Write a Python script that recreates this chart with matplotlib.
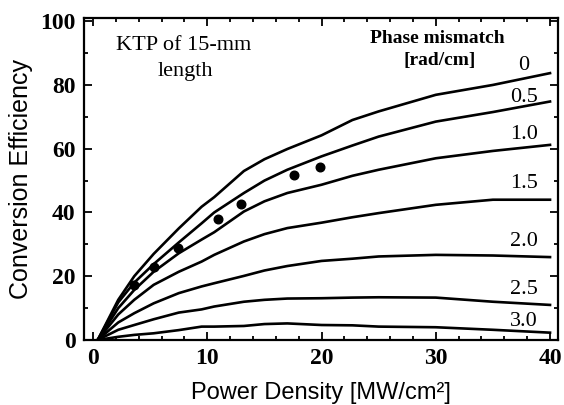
import matplotlib
matplotlib.use("Agg")
import matplotlib.pyplot as plt
from matplotlib.ticker import MultipleLocator

# Power density grid [MW/cm^2] shared by all computed curves
power = [0.4, 2.2, 3.6, 5.3, 7.5, 9.5, 10.6, 13.2, 15, 17, 20, 22.7, 25, 30, 35, 40]

# Conversion efficiency [%] for each phase mismatch [rad/cm]
mismatch_labels = ["0", "0.5", "1.0", "1.5", "2.0", "2.5", "3.0"]
eff_0_0 = [0, 12.6, 20.0, 27.0, 35.0, 41.8, 44.8, 53.0, 56.7, 59.9, 64.2, 69.0, 71.7, 76.9, 80.0, 83.7]
eff_0_5 = [0, 11.8, 18.0, 23.8, 30.6, 36.6, 40.0, 46.1, 50.0, 53.4, 57.6, 61.0, 63.8, 68.5, 71.5, 74.8]
eff_1_0 = [0, 10.0, 15.7, 21.4, 27.2, 31.5, 33.8, 40.3, 43.5, 46.1, 48.7, 51.5, 53.4, 57.0, 59.3, 61.2]
eff_1_5 = [0, 8.0, 12.6, 17.3, 21.4, 24.6, 26.7, 30.9, 33.2, 35.1, 36.8, 38.5, 39.8, 42.4, 44.0, 44.0]
eff_2_0 = [0, 5.5, 8.4, 11.5, 14.7, 16.8, 17.8, 20.1, 21.8, 23.2, 24.8, 25.5, 26.2, 26.7, 26.5, 26.0]
eff_2_5 = [0, 3.2, 4.7, 6.5, 8.6, 9.6, 10.5, 12.0, 12.6, 13.0, 13.1, 13.3, 13.4, 13.3, 12.0, 11.0]
eff_3_0 = [0, 1.0, 1.6, 2.1, 3.1, 4.2, 4.2, 4.4, 5.0, 5.2, 4.7, 4.6, 4.2, 4.0, 3.2, 2.3]
curves = [eff_0_0, eff_0_5, eff_1_0, eff_1_5, eff_2_0, eff_2_5, eff_3_0]

# Label positions next to each curve end
label_x = 37.7
label_y = [86.2, 76.0, 64.4, 49.2, 31.0, 15.8, 5.8]

# Measured points
meas_power = [3.6, 5.3, 7.45, 10.9, 12.95, 17.6, 19.9]
meas_eff = [17.3, 22.8, 28.8, 37.9, 42.6, 51.6, 54.4]

serif = ["Liberation Serif", "DejaVu Serif"]
sans = ["Liberation Sans", "DejaVu Sans"]

fig = plt.figure(figsize=(5.64, 4.05), dpi=100)
ax = fig.add_axes([0.1489, 0.1605, 0.9894 - 0.1489, 0.9556 - 0.1605])

for eff in curves:
    ax.plot(power, eff, color="black", lw=1.9, solid_joinstyle="round")
ax.plot(meas_power, meas_eff, "o", color="black", markersize=6.2)

for lab, ly in zip(mismatch_labels, label_y):
    ax.text(label_x, ly, lab, ha="center", va="center", fontsize=16, family=serif)

ax.text(7.95, 92.4, "KTP of 15-mm", ha="center", va="center", fontsize=16, family=serif)
ax.text(8.1, 84.3, "length", ha="center", va="center", fontsize=16, family=serif)
ax.text(30.1, 94.7, "Phase mismatch", ha="center", va="center", fontsize=14,
        family=serif, fontweight="bold")
ax.text(30.3, 87.7, "[rad/cm]", ha="center", va="center", fontsize=14,
        family=serif, fontweight="bold")

ax.set_xlim(-0.8, 40.7)
ax.set_ylim(0, 101)
ax.xaxis.set_major_locator(MultipleLocator(10))
ax.xaxis.set_minor_locator(MultipleLocator(2))
ax.yaxis.set_major_locator(MultipleLocator(20))
ax.yaxis.set_minor_locator(MultipleLocator(10))
ax.tick_params(which="both", direction="in", top=True, right=True, width=1.3)
ax.tick_params(which="major", length=6, pad=6, labelsize=17)
ax.tick_params(which="minor", length=3)
for lbl in ax.get_xticklabels() + ax.get_yticklabels():
    lbl.set_family(serif)
    lbl.set_fontweight("bold")
for sp in ax.spines.values():
    sp.set_linewidth(1.6)

ax.set_xlabel("Power Density [MW/cm²]", fontsize=17, family=sans, labelpad=9)
ax.set_ylabel("Conversion Efficiency", fontsize=18, family=sans, labelpad=5)

fig.savefig("out.png", dpi=100)
